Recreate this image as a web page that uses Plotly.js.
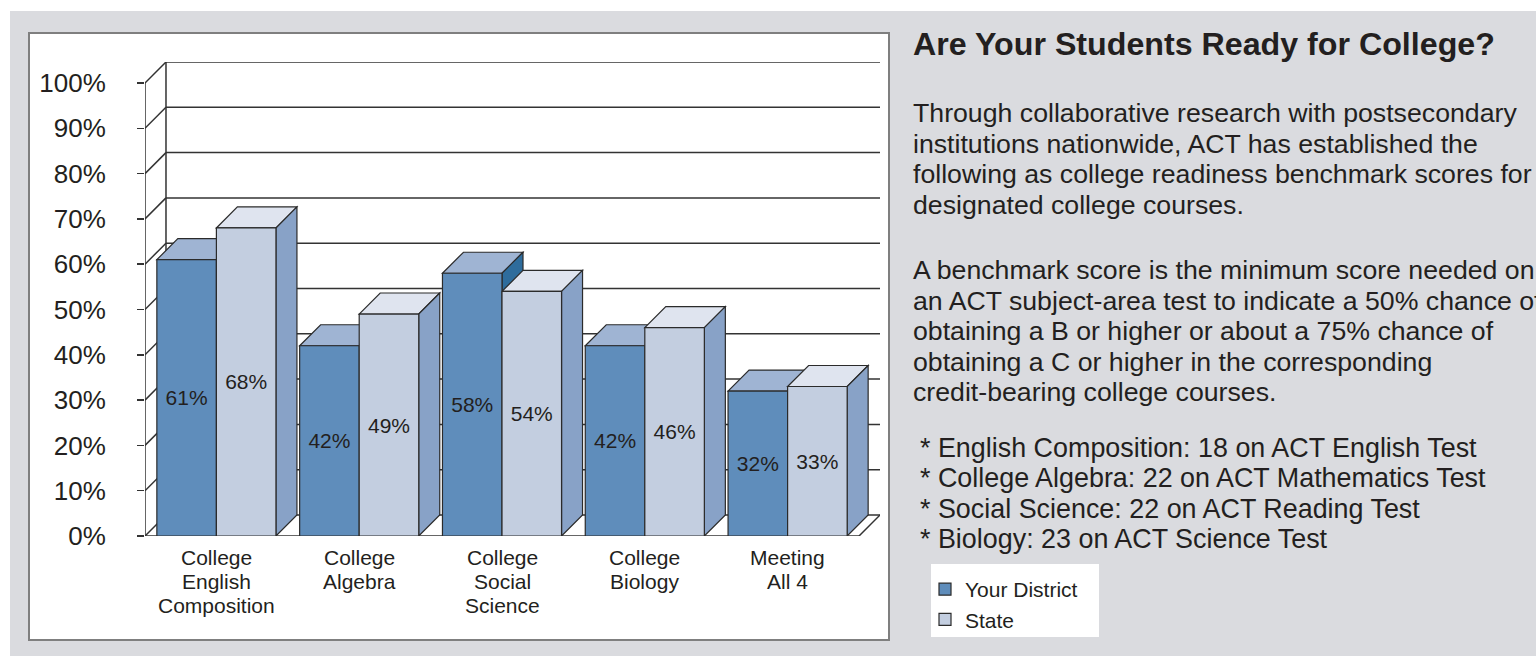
<!DOCTYPE html>
<html>
<head>
<meta charset="utf-8">
<script src="https://cdn.plot.ly/plotly-3.0.1.min.js"></script>
<style>
  html, body { margin: 0; padding: 0; background: #ffffff; }
  #chart { width: 1536px; height: 656px; }
</style>
</head>
<body>
<div id="chart"></div>
<script>
// ---------------- DATA ----------------
const categories = ['College<br>English<br>Composition', 'College<br>Algebra', 'College<br>Social<br>Science', 'College<br>Biology', 'Meeting<br>All 4'];
const seriesNames = ['Your District', 'State'];
const districtValues = [61, 42, 58, 42, 32];
const stateValues = [68, 49, 54, 46, 33];
const yTickValues = [0, 10, 20, 30, 40, 50, 60, 70, 80, 90, 100];
const yTickLabels = ['0%', '10%', '20%', '30%', '40%', '50%', '60%', '70%', '80%', '90%', '100%'];

const titleText = 'Are Your Students Ready for College?';
const para1Lines = [
  'Through collaborative research with postsecondary',
  'institutions nationwide, ACT has established the',
  'following as college readiness benchmark scores for',
  'designated college courses.'
];
const para2Lines = [
  'A benchmark score is the minimum score needed on',
  'an ACT subject-area test to indicate a 50% chance of',
  'obtaining a B or higher or about a 75% chance of',
  'obtaining a C or higher in the corresponding',
  'credit-bearing college courses.'
];
const bulletLines = [
  '* English Composition: 18 on ACT English Test',
  '* College Algebra: 22 on ACT Mathematics Test',
  '* Social Science: 22 on ACT Reading Test',
  '* Biology: 23 on ACT Science Test'
];

// ---------------- STYLE / GEOMETRY ----------------
const FONT = 'Liberation Sans, Arial, Helvetica, sans-serif';
const TXT = '#231f20';
const W = 1536, H = 656;
const M = { l: 145, r: W - 880, t: 62, b: H - 536 };
const DX = 0.147;   // depth offset in category units
const DY = 4.64;    // depth offset in % units
const BW = 0.417;   // bar width in category units
const EDGE = '#2b2b2b';
const colors = {
  district: { front: '#5f8dbb', top: '#9fb4d3', side: '#2e6c9c' },
  state:    { front: '#c3cee0', top: '#dfe4ef', side: '#88a2c7' }
};
const yMax = yTickValues[yTickValues.length - 1];
const nCat = categories.length;
const xIdx = categories.map((c, i) => i);

function pxX(px) { return (px - M.l) / (W - M.l - M.r); }
function pxY(py) { return (H - M.b - py) / (H - M.t - M.b); }

const shapes = [];
// background panel, chart box, legend box (paper coords)
shapes.push({ type: 'rect', xref: 'paper', yref: 'paper', layer: 'below',
  x0: pxX(10), x1: pxX(1545), y0: pxY(11), y1: pxY(665),
  fillcolor: '#dadbdf', line: { width: 0 } });
shapes.push({ type: 'rect', xref: 'paper', yref: 'paper', layer: 'below',
  x0: pxX(29), x1: pxX(889), y0: pxY(33), y1: pxY(640),
  fillcolor: '#ffffff', line: { color: '#7f7f7f', width: 2 } });
shapes.push({ type: 'rect', xref: 'paper', yref: 'paper', layer: 'below',
  x0: pxX(931), x1: pxX(1099), y0: pxY(564), y1: pxY(637),
  fillcolor: '#ffffff', line: { width: 0 } });

const gridLine = { color: '#333333', width: 1.5 };
const xL = -0.5, xR = nCat - 0.5;
// back wall gridlines and left wall diagonals
yTickValues.forEach(v => {
  shapes.push({ type: 'line', xref: 'x', yref: 'y', layer: 'below',
    x0: xL + DX, x1: xR + DX, y0: v + DY, y1: v + DY, line: gridLine });
  shapes.push({ type: 'line', xref: 'x', yref: 'y', layer: 'below',
    x0: xL, x1: xL + DX, y0: v, y1: v + DY, line: gridLine });
});
// back-left vertical edge
shapes.push({ type: 'line', xref: 'x', yref: 'y', layer: 'below',
  x0: xL + DX, x1: xL + DX, y0: DY, y1: yMax + DY, line: gridLine });
// front axis line
shapes.push({ type: 'line', xref: 'x', yref: 'y', layer: 'below',
  x0: xL, x1: xL, y0: 0, y1: yMax, line: gridLine });
// floor front edge and right edge
shapes.push({ type: 'line', xref: 'x', yref: 'y', layer: 'below',
  x0: xL, x1: xR, y0: 0, y1: 0, line: gridLine });
shapes.push({ type: 'line', xref: 'x', yref: 'y', layer: 'below',
  x0: xR, x1: xR + DX, y0: 0, y1: DY, line: gridLine });

function addBox3D(xLeft, v, col) {
  const xRight = xLeft + BW;
  // top face
  shapes.push({ type: 'path', xref: 'x', yref: 'y', layer: 'below',
    path: `M ${xLeft},${v} L ${xRight},${v} L ${xRight + DX},${v + DY} L ${xLeft + DX},${v + DY} Z`,
    fillcolor: col.top, line: { color: EDGE, width: 1.2 } });
  // side face
  shapes.push({ type: 'path', xref: 'x', yref: 'y', layer: 'below',
    path: `M ${xRight},0 L ${xRight + DX},${DY} L ${xRight + DX},${v + DY} L ${xRight},${v} Z`,
    fillcolor: col.side, line: { color: EDGE, width: 1.2 } });
}
// district faces first (further back in drawing order), then state
xIdx.forEach(i => addBox3D(i - BW, districtValues[i], colors.district));
xIdx.forEach(i => addBox3D(i, stateValues[i], colors.state));

// ---------------- TRACES ----------------
const barCommon = {
  type: 'bar',
  x: xIdx,
  width: BW,
  textposition: 'inside',
  insidetextanchor: 'middle',
  textangle: 0,
  constraintext: 'none',
  texttemplate: '%{y}%',
  textfont: { family: FONT, size: 21, color: TXT },
  insidetextfont: { family: FONT, size: 21, color: TXT },
  hoverinfo: 'skip'
};
const traces = [
  Object.assign({}, barCommon, {
    name: seriesNames[0], y: districtValues, offset: -BW,
    marker: { color: colors.district.front, line: { color: EDGE, width: 1.2 } }
  }),
  Object.assign({}, barCommon, {
    name: seriesNames[1], y: stateValues, offset: 0,
    marker: { color: colors.state.front, line: { color: EDGE, width: 1.2 } }
  })
];

// ---------------- ANNOTATIONS ----------------
const annotations = [];
// category labels (one annotation per line for tighter line spacing)
categories.forEach((c, i) => {
  c.split('<br>').forEach((line, j) => annotations.push({
    xref: 'x', yref: 'paper', x: i, y: pxY(557 + j * 24),
    xanchor: 'center', yanchor: 'middle', showarrow: false, text: line,
    font: { family: FONT, size: 21, color: TXT } }));
});
annotations.push({ xref: 'paper', yref: 'paper', x: pxX(911), y: pxY(44),
  xanchor: 'left', yanchor: 'middle', showarrow: false, text: '<b>' + titleText + '</b>',
  font: { family: FONT, size: 32.2, color: TXT } });
para1Lines.forEach((t, i) => annotations.push({ xref: 'paper', yref: 'paper',
  x: pxX(911), y: pxY(113 + i * 30.6), xanchor: 'left', yanchor: 'middle', showarrow: false,
  text: t, font: { family: FONT, size: 26.7, color: TXT } }));
para2Lines.forEach((t, i) => annotations.push({ xref: 'paper', yref: 'paper',
  x: pxX(911), y: pxY(270 + i * 30.6), xanchor: 'left', yanchor: 'middle', showarrow: false,
  text: t, font: { family: FONT, size: 26.7, color: TXT } }));
bulletLines.forEach((t, i) => annotations.push({ xref: 'paper', yref: 'paper',
  x: pxX(918), y: pxY(448 + i * 30.4), xanchor: 'left', yanchor: 'middle', showarrow: false,
  text: t, font: { family: FONT, size: 26.9, color: TXT } }));

const layout = {
  width: W, height: H,
  margin: M,
  paper_bgcolor: '#ffffff',
  plot_bgcolor: 'rgba(0,0,0,0)',
  barmode: 'overlay',
  showlegend: true,
  legend: {
    x: pxX(925), y: pxY(569), xanchor: 'left', yanchor: 'top',
    bgcolor: 'rgba(0,0,0,0)', borderwidth: 0,
    font: { family: FONT, size: 21, color: TXT },
    itemclick: false, itemdoubleclick: false, tracegroupgap: 0
  },
  xaxis: {
    range: [xL, xR + DX], tickmode: 'array', tickvals: xIdx, ticktext: categories,
    showticklabels: false,
    showgrid: false, zeroline: false, showline: false, ticks: '',
    fixedrange: true
  },
  yaxis: {
    range: [0, yMax + DY], tickmode: 'array', tickvals: yTickValues, ticktext: yTickLabels,
    showgrid: false, zeroline: false, showline: false,
    ticks: 'outside', ticklen: 7, tickwidth: 1.5, tickcolor: '#333333',
    ticklabelstandoff: 26,
    tickfont: { family: FONT, size: 26, color: TXT }, fixedrange: true
  },
  shapes: shapes,
  annotations: annotations,
  font: { family: FONT, color: TXT }
};

Plotly.newPlot('chart', traces, layout, { displayModeBar: false, staticPlot: true });
</script>
</body>
</html>
